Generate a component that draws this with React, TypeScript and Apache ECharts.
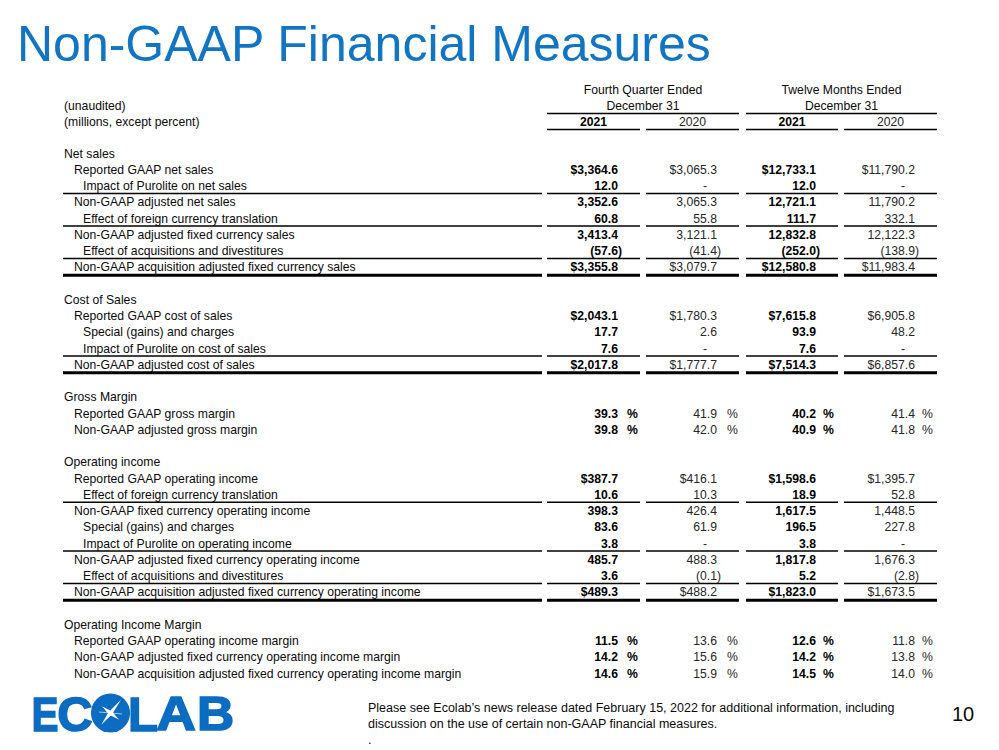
import React, { useEffect, useRef } from "react";
import * as echarts from "echarts";

// ---------- DATA ----------
const TITLE = "Non-GAAP Financial Measures";
const periodHeads = ["Fourth Quarter Ended", "Twelve Months Ended"];
const periodSubs = ["December 31", "December 31"];
const yearLabels = ["2021", "2020", "2021", "2020"];
const headNotes = ["(unaudited)", "(millions, except percent)"];
const footnoteLines = [
  "Please see Ecolab\u2019s news release dated February 15, 2022 for additional information, including",
  "discussion on the use of certain non-GAAP financial measures.",
  ".",
];
const pageNumber = "10";
const logoLetters = ["E", "C", "L", "A", "B"];

const rowLabels = [
  "Net sales",
  "Reported GAAP net sales",
  "Impact of Purolite on net sales",
  "Non-GAAP adjusted net sales",
  "Effect of foreign currency translation",
  "Non-GAAP adjusted fixed currency sales",
  "Effect of acquisitions and divestitures",
  "Non-GAAP acquisition adjusted fixed currency sales",
  "",
  "Cost of Sales",
  "Reported GAAP cost of sales",
  "Special (gains) and charges",
  "Impact of Purolite on cost of sales",
  "Non-GAAP adjusted cost of sales",
  "",
  "Gross Margin",
  "Reported GAAP gross margin",
  "Non-GAAP adjusted gross margin",
  "",
  "Operating income",
  "Reported GAAP operating income",
  "Effect of foreign currency translation",
  "Non-GAAP fixed currency operating income",
  "Special (gains) and charges",
  "Impact of Purolite on operating income",
  "Non-GAAP adjusted fixed currency operating income",
  "Effect of acquisitions and divestitures",
  "Non-GAAP acquisition adjusted fixed currency operating income",
  "",
  "Operating Income Margin",
  "Reported GAAP operating income margin",
  "Non-GAAP adjusted fixed currency operating income margin",
  "Non-GAAP acquisition adjusted fixed currency operating income margin",
];
// hierarchy level of each row (0 section, 1 line item, 2 adjustment)
const rowLevel = [0, 1, 2, 1, 2, 1, 2, 1, 0, 0, 1, 2, 2, 1, 0, 0, 1, 1, 0, 0, 1, 2, 1, 2, 2, 1, 2, 1, 0, 0, 1, 1, 1];
// value kind: h = heading/blank, usd = dollar amount, num = plain amount, pct = percent
const rowKind = [
  "h", "usd", "num", "num", "num", "num", "num", "usd", "h",
  "h", "usd", "num", "num", "usd", "h",
  "h", "pct", "pct", "h",
  "h", "usd", "num", "num", "num", "num", "num", "num", "usd", "h",
  "h", "pct", "pct", "pct",
];
// rule under row: 0 none, 1 single, 2 heavy
const rowRule = [0, 0, 1, 0, 1, 0, 1, 2, 0, 0, 0, 0, 1, 2, 0, 0, 0, 0, 0, 0, 0, 1, 0, 0, 1, 0, 1, 2, 0, 0, 0, 0, 0];

const N = null;
const q4_2021 = [N, 3364.6, 12.0, 3352.6, 60.8, 3413.4, -57.6, 3355.8, N, N, 2043.1, 17.7, 7.6, 2017.8, N, N, 39.3, 39.8, N, N, 387.7, 10.6, 398.3, 83.6, 3.8, 485.7, 3.6, 489.3, N, N, 11.5, 14.2, 14.6];
const q4_2020 = [N, 3065.3, 0, 3065.3, 55.8, 3121.1, -41.4, 3079.7, N, N, 1780.3, 2.6, 0, 1777.7, N, N, 41.9, 42.0, N, N, 416.1, 10.3, 426.4, 61.9, 0, 488.3, -0.1, 488.2, N, N, 13.6, 15.6, 15.9];
const fy_2021 = [N, 12733.1, 12.0, 12721.1, 111.7, 12832.8, -252.0, 12580.8, N, N, 7615.8, 93.9, 7.6, 7514.3, N, N, 40.2, 40.9, N, N, 1598.6, 18.9, 1617.5, 196.5, 3.8, 1817.8, 5.2, 1823.0, N, N, 12.6, 14.2, 14.5];
const fy_2020 = [N, 11790.2, 0, 11790.2, 332.1, 12122.3, -138.9, 11983.4, N, N, 6905.8, 48.2, 0, 6857.6, N, N, 41.4, 41.8, N, N, 1395.7, 52.8, 1448.5, 227.8, 0, 1676.3, -2.8, 1673.5, N, N, 11.8, 13.8, 14.0];
const valueColumns = [q4_2021, q4_2020, fy_2021, fy_2020];

// ---------- LAYOUT ----------
const FONT = '"Liberation Sans", Arial, Helvetica, sans-serif';
const FS = "12.2px";
const BLUE = "#1275c4";
const LOGO_BLUE = "#0b6cc1";
const LABEL_X = [64, 74, 83];
const COL_RIGHT = [618, 717, 816, 915];
const PCT_X = [627, 727, 823, 922];
const COL_SEG = [
  [547, 640],
  [646, 739],
  [746, 838],
  [844, 937],
];
const LABEL_SEG = [63, 542];
const ROW0 = 153.5;
const PITCH = 16.25;

function fmt(v: number) {
  return Math.abs(v).toLocaleString("en-US", { minimumFractionDigits: 1, maximumFractionDigits: 1 });
}

function txt(text: string, x: number, y: number, font: string, fill: string, align: string) {
  return {
    type: "text",
    silent: true,
    style: { text, x, y, font, fill, textAlign: align, textVerticalAlign: "middle" },
  };
}

function gText(text: string, x: number, y: number, font: string, fill: string, align: string) {
  return {
    type: "text",
    x,
    y,
    silent: true,
    style: { text, x: 0, y: 0, font, fill, textAlign: align, textVerticalAlign: "middle" },
  };
}

function gLine(x1: number, x2: number, y: number, w: number) {
  return { type: "line", silent: true, shape: { x1, y1: y, x2, y2: y }, style: { stroke: "#000", lineWidth: w } };
}

function starPoints(cx: number, cy: number) {
  const outer = [17, 11, 15, 11];
  const pts: number[][] = [];
  const rot = -Math.PI / 4 - 0.12;
  for (let k = 0; k < 8; k++) {
    const a = rot + (k * Math.PI) / 4;
    const r = k % 2 === 0 ? outer[k / 2] : 2.6;
    pts.push([cx + r * Math.cos(a), cy + r * Math.sin(a)]);
  }
  return pts;
}

export default function App() {
  const ref = useRef<HTMLDivElement>(null);

  useEffect(() => {
    if (!ref.current) return;
    const chart = echarts.init(ref.current, undefined, { renderer: "svg" });
    const nRows = rowLabels.length;

    const renderItem = (params: any, api: any) => {
      const i = params.dataIndex;
      const y = api.coord([0, i])[1];
      const X = (v: number) => api.coord([v, i])[0];
      const kids: any[] = [];
      if (rowLabels[i]) {
        kids.push(txt(rowLabels[i], X(LABEL_X[rowLevel[i]]), y, `${FS} ${FONT}`, "#0a0a0a", "left"));
      }
      const kind = rowKind[i];
      if (kind !== "h") {
        valueColumns.forEach((col, c) => {
          const v = col[i] as number | null;
          if (v === null || v === undefined) return;
          const bold = c % 2 === 0;
          const font = `${bold ? "bold " : ""}${FS} ${FONT}`;
          const fill = bold ? "#000" : "#262626";
          if (kind === "pct") {
            kids.push(txt(fmt(v), X(COL_RIGHT[c]), y, font, fill, "right"));
            kids.push(txt("%", X(PCT_X[c]), y, font, fill, "left"));
          } else if (v === 0) {
            kids.push(txt("-", X(COL_RIGHT[c] - 10), y, font, fill, "right"));
          } else if (v < 0) {
            kids.push(txt(`(${fmt(v)})`, X(COL_RIGHT[c] + 4), y, font, fill, "right"));
          } else {
            kids.push(txt(`${kind === "usd" ? "$" : ""}${fmt(v)}`, X(COL_RIGHT[c]), y, font, fill, "right"));
          }
        });
      }
      const rule = rowRule[i];
      if (rule) {
        const ly = y + (rule === 2 ? 8 : 7.5);
        const w = rule === 2 ? 3 : 1.3;
        [LABEL_SEG, ...COL_SEG].forEach((s) => {
          kids.push({
            type: "line",
            silent: true,
            shape: { x1: X(s[0]), y1: ly, x2: X(s[1]), y2: ly },
            style: { stroke: "#000", lineWidth: w },
          });
        });
      }
      return { type: "group", children: kids };
    };

    const logoX = [45, 75, 143, 176, 215.5];
    const logoScale = [0.82, 1.0, 1.0, 1.12, 1.05];
    const logoY = 713.5;

    const graphics: any[] = [
      gText(TITLE, 17, 44, `50px ${FONT}`, BLUE, "left"),
      gText(periodHeads[0], 643, 90, `${FS} ${FONT}`, "#0a0a0a", "center"),
      gText(periodHeads[1], 841.5, 90, `${FS} ${FONT}`, "#0a0a0a", "center"),
      gText(periodSubs[0], 643, 106, `${FS} ${FONT}`, "#0a0a0a", "center"),
      gText(periodSubs[1], 841.5, 106, `${FS} ${FONT}`, "#0a0a0a", "center"),
      gText(headNotes[0], 64, 106, `${FS} ${FONT}`, "#0a0a0a", "left"),
      gText(headNotes[1], 64, 122, `${FS} ${FONT}`, "#0a0a0a", "left"),
      gLine(547, 739, 113.5, 1.5),
      gLine(746, 937, 113.5, 1.5),
      ...yearLabels.map((t, c) =>
        gText(t, (COL_SEG[c][0] + COL_SEG[c][1]) / 2, 122, `${c % 2 === 0 ? "bold " : ""}${FS} ${FONT}`, c % 2 === 0 ? "#000" : "#262626", "center")
      ),
      ...COL_SEG.map((s) => gLine(s[0], s[1], 129.5, 1.5)),
      ...footnoteLines.map((t, k) => gText(t, 368, 708 + k * 16, `12.5px ${FONT}`, "#0a0a0a", "left")),
      gText(pageNumber, 963, 714, `20px ${FONT}`, "#0a0a0a", "center"),
      ...logoLetters.map((t, k) => ({
        type: "text",
        x: logoX[k],
        y: logoY,
        scaleX: logoScale[k],
        silent: true,
        style: {
          text: t,
          x: 0,
          y: 0,
          font: `bold 49px ${FONT}`,
          fill: LOGO_BLUE,
          stroke: LOGO_BLUE,
          lineWidth: 1.6,
          textAlign: "center",
          textVerticalAlign: "middle",
        },
      })),
      { type: "circle", silent: true, shape: { cx: 110.5, cy: 713, r: 19.5 }, style: { fill: LOGO_BLUE } },
      { type: "polygon", silent: true, shape: { points: starPoints(110.5, 713) }, style: { fill: "#ffffff" } },
      {
        type: "line",
        silent: true,
        shape: { x1: 99, y1: 712, x2: 122, y2: 714 },
        style: { stroke: "#ffffff", lineWidth: 0.8, opacity: 0.8 },
      },
    ];

    chart.setOption({
      animation: false,
      backgroundColor: "#ffffff",
      grid: { left: 0, top: ROW0 - PITCH / 2, width: 999, height: PITCH * nRows, containLabel: false },
      xAxis: { type: "value", min: 0, max: 999, show: false },
      yAxis: {
        type: "category",
        inverse: true,
        show: false,
        data: rowLabels.map((_, i) => String(i)),
      },
      series: [
        {
          type: "custom",
          coordinateSystem: "cartesian2d",
          clip: false,
          silent: true,
          encode: { x: 0, y: 1 },
          data: rowLabels.map((_, i) => [0, i]),
          renderItem,
        },
      ],
      graphic: { elements: graphics },
    });

    return () => chart.dispose();
  }, []);

  return (
    <div
      ref={ref}
      style={{ position: "absolute", left: 0, top: 0, width: 999, height: 750, background: "#fff" }}
    />
  );
}
